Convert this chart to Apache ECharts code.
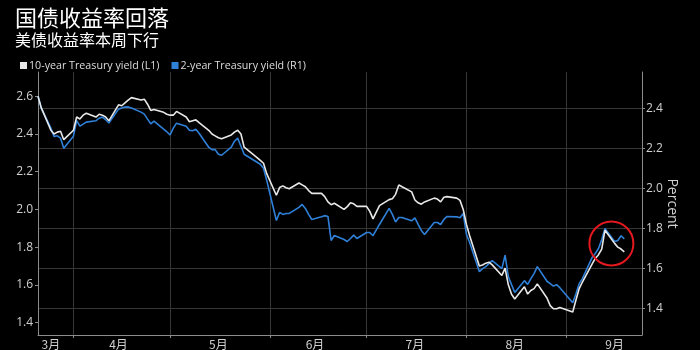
<!DOCTYPE html>
<html>
<head>
<meta charset="utf-8">
<script src="https://cdn.jsdelivr.net/npm/echarts@6/dist/echarts.min.js"></script>
<style>
  html, body { margin: 0; padding: 0; background: #000; }
  #chart { width: 700px; height: 350px; }
</style>
</head>
<body>
<div id="chart"></div>
<script>
// Trading days, 2019-03-21 .. 2019-09-19
const dates = [
  '2019-03-21','2019-03-22','2019-03-25','2019-03-26','2019-03-27','2019-03-28','2019-03-29',
  '2019-04-01','2019-04-02','2019-04-03','2019-04-04','2019-04-05','2019-04-08','2019-04-09','2019-04-10','2019-04-11','2019-04-12',
  '2019-04-15','2019-04-16','2019-04-17','2019-04-18','2019-04-19','2019-04-22','2019-04-23','2019-04-24','2019-04-25','2019-04-26','2019-04-29','2019-04-30',
  '2019-05-01','2019-05-02','2019-05-03','2019-05-06','2019-05-07','2019-05-08','2019-05-09','2019-05-10','2019-05-13','2019-05-14','2019-05-15','2019-05-16','2019-05-17',
  '2019-05-20','2019-05-21','2019-05-22','2019-05-23','2019-05-24','2019-05-28','2019-05-29','2019-05-30','2019-05-31',
  '2019-06-03','2019-06-04','2019-06-05','2019-06-06','2019-06-07','2019-06-10','2019-06-11','2019-06-12','2019-06-13','2019-06-14',
  '2019-06-17','2019-06-18','2019-06-19','2019-06-20','2019-06-21','2019-06-24','2019-06-25','2019-06-26','2019-06-27','2019-06-28',
  '2019-07-01','2019-07-02','2019-07-03','2019-07-05','2019-07-08','2019-07-09','2019-07-10','2019-07-11','2019-07-12',
  '2019-07-15','2019-07-16','2019-07-17','2019-07-18','2019-07-19','2019-07-22','2019-07-23','2019-07-24','2019-07-25','2019-07-26',
  '2019-07-29','2019-07-30','2019-07-31',
  '2019-08-01','2019-08-02','2019-08-05','2019-08-06','2019-08-07','2019-08-08','2019-08-09','2019-08-12','2019-08-13','2019-08-14','2019-08-15','2019-08-16',
  '2019-08-19','2019-08-20','2019-08-21','2019-08-22','2019-08-23','2019-08-26','2019-08-27','2019-08-28','2019-08-29','2019-08-30',
  '2019-09-03','2019-09-04','2019-09-05','2019-09-06','2019-09-09','2019-09-10','2019-09-11','2019-09-12','2019-09-13',
  '2019-09-16','2019-09-17','2019-09-18','2019-09-19'
];

// 10-year Treasury yield, percent (left axis)
const tenYear = [
  2.60, 2.54, 2.42, 2.40, 2.41, 2.415, 2.37,
  2.42, 2.49, 2.48, 2.50, 2.51, 2.49, 2.505, 2.50, 2.49, 2.47,
  2.555, 2.55, 2.565, 2.58, 2.593, 2.58, 2.585, 2.558, 2.525, 2.53, 2.515, 2.505,
  2.50, 2.50, 2.52, 2.49, 2.465, 2.47, 2.475, 2.46, 2.42, 2.40, 2.39, 2.38, 2.375,
  2.395, 2.41, 2.42, 2.40, 2.33, 2.275, 2.26, 2.245, 2.19,
  2.075, 2.116, 2.125, 2.115, 2.11, 2.14, 2.13, 2.12, 2.10, 2.085,
  2.085, 2.068, 2.04, 2.025, 2.033, 2.0, 2.015, 2.035, 2.03, 2.016,
  2.016, 1.99, 1.95, 2.02, 2.052, 2.057, 2.08, 2.13, 2.12,
  2.093, 2.05, 2.035, 2.028, 2.04, 2.06, 2.055, 2.04, 2.065, 2.068,
  2.06, 2.048, 2.0,
  1.92, 1.86, 1.70, 1.705, 1.715, 1.72, 1.706, 1.65, 1.689, 1.60, 1.55, 1.525,
  1.59, 1.551, 1.57, 1.58, 1.605, 1.53, 1.49, 1.473, 1.473, 1.48,
  1.456, 1.52, 1.58, 1.615, 1.71, 1.74, 1.76, 1.79, 1.89,
  1.82, 1.80, 1.79, 1.775
];

// 2-year Treasury yield, percent (right axis)
const twoYear = [
  2.46, 2.40, 2.30, 2.258, 2.262, 2.25, 2.20,
  2.26, 2.338, 2.31, 2.32, 2.33, 2.337, 2.35, 2.355, 2.342, 2.326,
  2.395, 2.40, 2.405, 2.406, 2.40, 2.38, 2.37, 2.345, 2.322, 2.335, 2.295, 2.282,
  2.266, 2.30, 2.325, 2.31, 2.29, 2.287, 2.295, 2.275, 2.205, 2.193, 2.193, 2.17, 2.165,
  2.205, 2.235, 2.25, 2.21, 2.17, 2.13, 2.12, 2.10, 2.04,
  1.84, 1.88, 1.87, 1.875, 1.875, 1.905, 1.92, 1.90, 1.87, 1.845,
  1.858, 1.864, 1.86, 1.74, 1.765, 1.745, 1.735, 1.75, 1.767, 1.75,
  1.78, 1.78, 1.764, 1.82, 1.90, 1.87, 1.832, 1.855, 1.855,
  1.838, 1.853, 1.82, 1.79, 1.77, 1.83, 1.83, 1.82, 1.845, 1.86,
  1.858, 1.853, 1.875,
  1.77, 1.73, 1.585, 1.60, 1.61, 1.625, 1.64, 1.60, 1.667, 1.56, 1.52, 1.481,
  1.54, 1.521, 1.55, 1.575, 1.61, 1.537, 1.525, 1.513, 1.52, 1.505,
  1.43, 1.475, 1.525, 1.55, 1.655, 1.675, 1.70, 1.745, 1.80,
  1.735, 1.74, 1.764, 1.748
];

const tenYearName = '10-year Treasury yield (L1)';
const twoYearName = '2-year Treasury yield (R1)';

// Axis ticks
const leftTicks = [1.4, 1.6, 1.8, 2.0, 2.2, 2.4, 2.6];
const rightTicks = [1.4, 1.6, 1.8, 2.0, 2.2, 2.4];
// Month boundaries (ticks / grid) and the day each month label sits on
const monthStarts = ['2019-04-01', '2019-05-01', '2019-06-01', '2019-07-01', '2019-08-01', '2019-09-01'];
const monthLabelDays = ['2019-03-25', '2019-04-15', '2019-05-16', '2019-06-15', '2019-07-16', '2019-08-16', '2019-09-16'];

// Highlighted point of the latest move
const highlight = { date: '2019-09-15', value: 1.725 };

// 'YYYY-MM-DD' (optionally with an hour) -> local timestamp
const ts = (s, hour) => {
  const p = s.split('-').map(Number);
  return new Date(p[0], p[1] - 1, p[2], hour || 0).getTime();
};

const axisColor = '#8c8c8c';
const labelColor = '#d0d0d0';
const gridColor = '#363636';
const labelFont = 'Open Sans';

const chart = echarts.init(document.getElementById('chart'));

chart.setOption({
  backgroundColor: '#000',
  animation: false,
  title: {
    text: '国债收益率回落',
    subtext: '美债收益率本周下行',
    left: 10,
    top: 2,
    itemGap: 3,
    textStyle: { color: '#ffffff', fontSize: 22, fontWeight: 'normal', fontFamily: 'Noto Sans CJK SC' },
    subtextStyle: { color: '#ffffff', fontSize: 16, fontWeight: 'normal', fontFamily: 'Noto Sans CJK SC' }
  },
  legend: {
    left: 15,
    top: 55,
    icon: 'rect',
    itemWidth: 7,
    itemHeight: 7,
    itemGap: 12,
    data: [tenYearName, twoYearName],
    textStyle: { color: '#dddddd', fontSize: 10.7, fontFamily: labelFont, padding: [0, 0, 0, -3] }
  },
  grid: { left: 38, right: 58, top: 72, bottom: 8, containLabel: false },
  xAxis: {
    type: 'value',
    min: ts('2019-03-21'),
    max: ts('2019-09-24', 12),
    axisLine: { show: true, onZero: false, lineStyle: { color: axisColor } },
    axisTick: { show: true, length: 3, customValues: monthStarts.map((d) => ts(d)), lineStyle: { color: axisColor } },
    splitLine: { show: true, customValues: monthStarts.map((d) => ts(d)), lineStyle: { color: gridColor, width: 1 } },
    axisLabel: {
      customValues: monthLabelDays.map((d) => ts(d)),
      formatter: (v) => (new Date(v).getMonth() + 1) + '月',
      color: labelColor,
      fontSize: 12,
      fontFamily: 'Noto Sans CJK SC',
      margin: 3
    }
  },
  yAxis: [
    {
      type: 'value',
      position: 'left',
      min: 1.334,
      max: 2.729,
      axisLine: { show: true, onZero: false, lineStyle: { color: axisColor } },
      axisTick: { show: true, length: 3, customValues: leftTicks, lineStyle: { color: axisColor } },
      axisLabel: {
        customValues: leftTicks,
        formatter: (v) => v.toFixed(1),
        color: labelColor,
        fontSize: 12,
        fontFamily: labelFont,
        margin: 5
      },
      splitLine: { show: false }
    },
    {
      type: 'value',
      position: 'right',
      min: 1.269,
      max: 2.580,
      name: 'Percent',
      nameLocation: 'middle',
      nameRotate: -90,
      nameGap: 23,
      nameMoveOverlap: false,
      nameTextStyle: { color: labelColor, fontSize: 14, fontFamily: labelFont },
      axisLine: { show: true, onZero: false, lineStyle: { color: axisColor } },
      axisTick: { show: true, length: 3, customValues: rightTicks, lineStyle: { color: axisColor } },
      axisLabel: {
        customValues: rightTicks,
        formatter: (v) => v.toFixed(1),
        color: labelColor,
        fontSize: 12,
        fontFamily: labelFont,
        margin: 4
      },
      splitLine: { show: true, customValues: rightTicks, lineStyle: { color: gridColor, width: 1 } }
    }
  ],
  series: [
    {
      name: twoYearName,
      type: 'line',
      yAxisIndex: 1,
      symbol: 'none',
      data: dates.map((d, i) => [ts(d), twoYear[i]]),
      itemStyle: { color: '#2f80d8' },
      lineStyle: { color: '#2f80d8', width: 1.6 },
      markPoint: {
        silent: true,
        symbol: 'circle',
        symbolSize: 44,
        label: { show: false },
        itemStyle: { color: 'rgba(0,0,0,0)', borderColor: '#e3191f', borderWidth: 2 },
        data: [{ coord: [ts(highlight.date), highlight.value] }]
      }
    },
    {
      name: tenYearName,
      type: 'line',
      yAxisIndex: 0,
      symbol: 'none',
      data: dates.map((d, i) => [ts(d), tenYear[i]]),
      itemStyle: { color: '#e8e8e8' },
      lineStyle: { color: '#e8e8e8', width: 1.6 }
    }
  ]
});
</script>
</body>
</html>
